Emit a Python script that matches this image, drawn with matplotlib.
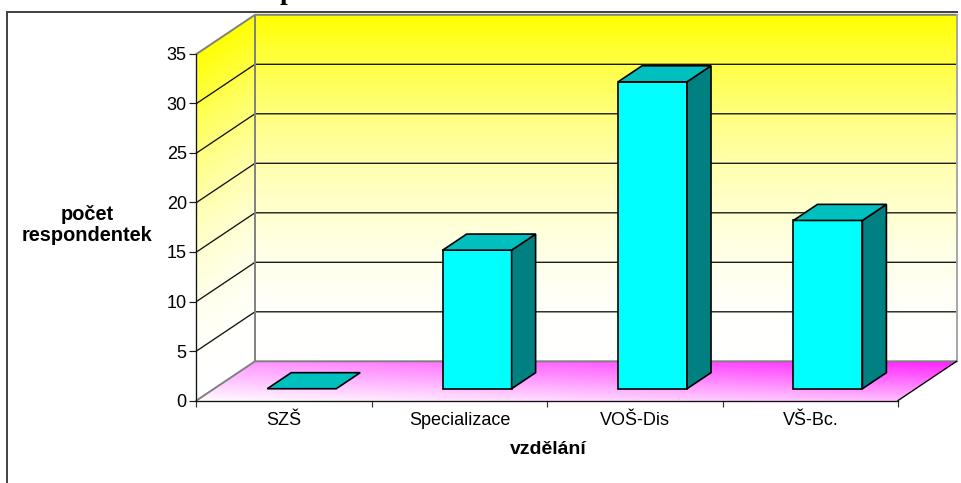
import numpy as np
import matplotlib
matplotlib.use("Agg")
import matplotlib.pyplot as plt
from matplotlib.lines import Line2D
from matplotlib.patches import Polygon
from matplotlib.transforms import Affine2D

categories = ["SZŠ", "Specializace", "VOŠ-Dis", "VŠ-Bc."]
respondents = [0, 14, 31, 17]
value_ticks = [0, 5, 10, 15, 20, 25, 30, 35]

W, H = 961, 483
X0_PX, CAT_PX = 196.5, 175.4   # left end of the category axis and width of one category
Y0_PX, VAL_PX = 400.5, 9.9     # baseline of the value axis and height of one unit
DEPTH_X, DEPTH_Y = 58.5 / CAT_PX, 39.2 / VAL_PX   # shift of the back wall, in data units
VAL_MAX = value_ticks[-1]
N_CAT = len(categories)
BAR_WIDTH = 0.393
BAR_D0, BAR_D1 = 0.30, 0.71    # front and rear of each bar along the depth axis

plt.rcParams["font.family"] = ["Liberation Sans", "DejaVu Sans"]
fig = plt.figure(figsize=(W / 100, H / 100), dpi=100, facecolor="white")
ax = fig.add_axes([0, 0, 1, 1], facecolor="none")
ax.set_xlim(-X0_PX / CAT_PX, (W - X0_PX) / CAT_PX)
ax.set_ylim((Y0_PX - H) / VAL_PX, Y0_PX / VAL_PX)
px = Affine2D().scale(1 / W, -1 / H).translate(0, 1) + fig.transFigure


def project(x, v, d):
    """Oblique projection of category x, value v, depth d (0 front, 1 back)."""
    return x + d * DEPTH_X, v + d * DEPTH_Y


def wall_rgb(t):
    # yellow at the top easing to white at the floor
    blue = 1 - t ** 2
    return np.stack([np.ones_like(t), np.ones_like(t), blue], axis=-1)


# Back wall and side wall share the same gradient, following the value axis
v_edges = np.linspace(0, VAL_MAX, 241)
v_mid = (v_edges[:-1] + v_edges[1:]) / 2
colors = wall_rgb(v_mid / VAL_MAX)[:, None, :]

u, v = np.meshgrid([0, N_CAT], v_edges)
ax.pcolormesh(*project(u, v, 1.0), colors, shading="flat", antialiased=False, zorder=1)
d, v = np.meshgrid([0.0, 1.0], v_edges)
ax.pcolormesh(*project(0, v, d), colors, shading="flat", antialiased=False, zorder=1)

# Floor: white at the front-left corner, strong magenta at the back-right corner
u_edges = np.linspace(0, N_CAT, 161)
d_edges = np.linspace(0, 1, 61)
um, dm = np.meshgrid((u_edges[:-1] + u_edges[1:]) / 2 / N_CAT,
                     (d_edges[:-1] + d_edges[1:]) / 2)
strength = (0.02 * (1 - um) * (1 - dm) + 0.29 * um * (1 - dm)
            + 0.47 * (1 - um) * dm + 0.98 * um * dm)
floor = np.stack([np.ones_like(um), 1 - 0.9 * strength, np.ones_like(um)], axis=-1)
ue, de = np.meshgrid(u_edges, d_edges)
ax.pcolormesh(*project(ue, 0, de), floor, shading="flat", antialiased=False, zorder=1)

# Gridlines run along the side wall and across the back wall
for val in value_ticks[1:-1]:
    xs, ys = zip(project(0, val, 0), project(0, val, 1), project(N_CAT, val, 1))
    ax.plot(xs, ys, color="#111111", lw=0.95, zorder=2, solid_joinstyle="miter")

# Wall outlines
GRAY = "#808080"
outline = [project(0, 0, 0), project(0, 0, 1), project(N_CAT, 0, 1)]
ax.plot(*zip(*outline), color=GRAY, lw=1.4, zorder=3)
outline = [project(0, VAL_MAX, 0), project(0, VAL_MAX, 1), project(N_CAT, VAL_MAX, 1)]
ax.plot(*zip(*outline), color=GRAY, lw=1.4, zorder=3)
ax.plot(*zip(project(0, 0, 1), project(0, VAL_MAX, 1)), color=GRAY, lw=1.4, zorder=3)
ax.plot(*zip(project(N_CAT, 0, 1), project(N_CAT, VAL_MAX, 1)), color="#a6a6a6", lw=1.4, zorder=3)
ax.plot(*zip(project(N_CAT, 0, 0), project(N_CAT, 0, 1)), color="black", lw=0.95, zorder=3)

# Bars as three faces: front, side and top
EDGE = dict(edgecolor="black", linewidth=1.2, joinstyle="miter", zorder=5)
for i, val in enumerate(respondents):
    left, right = i + 0.5 - BAR_WIDTH / 2, i + 0.5 + BAR_WIDTH / 2
    fl = project(left, 0, BAR_D0)
    fr = project(right, 0, BAR_D0)
    tl = project(left, val, BAR_D0)
    tr = project(right, val, BAR_D0)
    rb = project(right, 0, BAR_D1)
    rt = project(right, val, BAR_D1)
    lt = project(left, val, BAR_D1)
    if val > 0:
        ax.add_patch(Polygon([fl, fr, tr, tl], facecolor="#00FFFF", **EDGE))
        ax.add_patch(Polygon([fr, rb, rt, tr], facecolor="#008080", **EDGE))
    ax.add_patch(Polygon([tl, tr, rt, lt], facecolor="#00BFBF", **EDGE))

# Axes: the spines sit on the front edge of the box
for side in ("top", "right"):
    ax.spines[side].set_visible(False)
ax.spines["left"].set_position(("data", 0))
ax.spines["left"].set_bounds(0, VAL_MAX)
ax.spines["bottom"].set_position(("data", 0))
ax.spines["bottom"].set_bounds(0, N_CAT)
for side in ("left", "bottom"):
    ax.spines[side].set_linewidth(0.95)
    ax.spines[side].set_color("#111111")
    ax.spines[side].set_zorder(4)

TICK_SIZE = 13
ax.set_yticks(value_ticks)
ax.tick_params(axis="y", length=5, width=0.85, pad=2, labelsize=TICK_SIZE, color="#1a1a1a")
ax.set_xticks(np.arange(N_CAT + 1))
ax.set_xticklabels([])
ax.set_xticks(np.arange(N_CAT) + 0.5, minor=True)
ax.set_xticklabels(categories, minor=True, fontsize=TICK_SIZE)
ax.tick_params(axis="x", which="major", length=4.5, width=0.85, color="#333333")
ax.tick_params(axis="x", which="minor", length=0, pad=8.5)

ax.set_xlabel("vzdělání", fontsize=14, fontweight="bold", ha="center", va="center")
ax.xaxis.set_label_coords(548, 450, transform=px)
ax.set_ylabel("počet\nrespondentek", fontsize=14.4, fontweight="bold", rotation=0,
              ha="center", va="center", linespacing=1.15)
ax.yaxis.set_label_coords(87, 225, transform=px)

# Chart frame: only the top and left edges fall inside the canvas
frame = Line2D([7, 7, 957], [H, 12, 12], color="#404040", lw=1.4, transform=px,
               solid_joinstyle="miter")
fig.add_artist(frame)

# Heading sits above the canvas, leaving only its descender in view
fig.text(287, -1, "p", transform=px, family="Liberation Serif", fontweight="bold",
         fontsize=20, ha="center", va="baseline", color="black")

fig.savefig("out.png", dpi=100)
